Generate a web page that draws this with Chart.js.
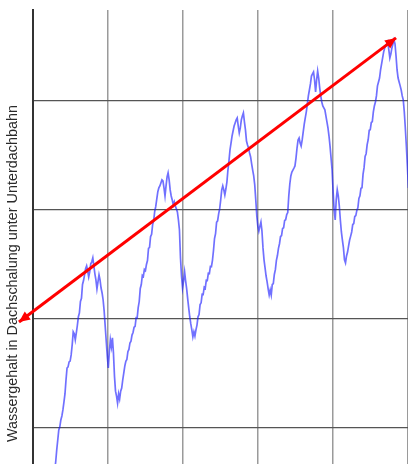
<!DOCTYPE html>
<html lang="de">
<head>
<meta charset="utf-8">
<title>Wassergehalt in Dachschalung unter Unterdachbahn</title>
<script src="https://cdn.jsdelivr.net/npm/chart.js@4/dist/chart.umd.min.js"></script>
<style>
  html, body { margin: 0; padding: 0; background: #fff; overflow: hidden; }
  #frame { width: 408px; height: 464px; overflow: hidden; position: relative; }
  #chart { display: block; }
</style>
</head>
<body>
<div id="frame"><canvas id="chart" width="408" height="540"></canvas></div>
<script>
// Moisture readings (M-%), one every 5 days starting at day 100
const dayStart = 100;
const dayStep = 5;
const moisture = [
  7.84, 8.07, 8.44, 8.99, 9.45, 9.91, 10.05, 10.37, 10.55, 10.83,
  11.19, 11.56, 12.20, 12.75, 12.80, 13.03, 13.07, 13.35, 13.81, 14.41,
  14.32, 14.04, 14.36, 14.70, 15.10, 15.28, 15.80, 15.95, 16.58, 16.76,
  17.02, 17.30, 17.43, 17.20, 16.93, 17.16, 17.53, 17.62, 17.80, 17.43,
  17.07, 16.79, 16.38, 16.70, 17.02, 16.79, 16.42, 16.19, 15.87, 15.36,
  14.67, 13.99, 13.30, 12.75, 13.49, 14.04, 13.72, 14.13, 13.44, 12.38,
  11.69, 11.46, 11.14, 11.56, 11.33, 11.69, 11.83, 12.20, 12.52, 12.84,
  13.06, 13.14, 13.50, 13.60, 13.90, 13.98, 14.26, 14.38, 14.62, 14.66,
  15.06, 15.05, 15.52, 15.80, 16.40, 16.58, 17.00, 16.95, 17.27, 17.22,
  17.50, 17.68, 18.24, 18.28, 18.78, 18.88, 19.33, 19.50, 19.93, 20.15,
  20.50, 20.83, 21.01, 21.10, 21.24, 21.38, 21.33, 21.01, 20.64, 21.10,
  21.51, 21.70, 21.38, 20.92, 20.64, 20.46, 20.23, 20.37, 20.18, 20.05,
  19.91, 19.54, 19.08, 17.80, 16.97, 16.42, 16.74, 17.16, 16.74, 16.38,
  15.92, 15.50, 15.09, 14.77, 14.50, 14.18, 14.41, 14.22, 14.50, 14.72,
  15.10, 15.20, 15.66, 15.74, 16.13, 16.12, 16.45, 16.40, 16.77, 16.76,
  17.09, 17.08, 17.41, 17.40, 17.69, 18.14, 18.69, 18.91, 19.43, 19.50,
  19.82, 20.05, 20.46, 20.92, 21.10, 20.92, 20.69, 20.96, 21.28, 21.83,
  22.25, 22.75, 23.07, 23.39, 23.62, 23.85, 23.99, 24.13, 24.22, 23.85,
  23.53, 23.76, 24.13, 24.31, 24.45, 24.04, 23.67, 23.16, 22.98, 22.84,
  22.61, 22.43, 22.11, 21.83, 21.56, 21.15, 20.46, 19.72, 19.26, 19.03,
  19.26, 19.45, 19.03, 18.26, 17.71, 17.34, 16.97, 16.70, 16.38, 16.10,
  16.33, 16.10, 16.58, 16.62, 17.04, 17.26, 17.69, 17.91, 18.24, 18.45,
  18.78, 18.82, 19.15, 19.18, 19.52, 19.55, 19.79, 19.88, 20.64, 21.19,
  21.56, 21.74, 21.83, 21.92, 22.02, 22.38, 22.84, 23.21, 23.30, 23.07,
  22.93, 23.21, 23.58, 23.94, 24.22, 24.50, 24.86, 25.23, 25.50, 25.78,
  26.14, 26.24, 26.33, 25.96, 25.41, 25.96, 26.37, 26.05, 25.59, 25.23,
  24.95, 24.77, 24.68, 24.59, 24.31, 24.04, 23.76, 23.39, 22.93, 22.38,
  21.83, 20.83, 20.00, 19.54, 20.46, 20.92, 20.64, 20.18, 19.54, 18.99,
  18.62, 18.26, 17.71, 17.57, 17.89, 18.07, 18.35, 18.62, 18.80, 18.99,
  19.33, 19.37, 19.70, 19.74, 19.98, 20.10, 20.53, 20.65, 20.99, 21.02,
  21.63, 21.94, 22.45, 22.58, 23.00, 23.22, 23.65, 23.68, 24.01, 24.05,
  24.50, 24.77, 24.95, 25.23, 25.69, 25.87, 26.05, 26.42, 26.70, 26.97,
  27.25, 27.43, 27.52, 27.62, 27.71, 27.34, 26.97, 27.16, 27.43, 27.62,
  27.80, 27.62, 27.06, 26.42, 26.05, 25.87, 25.69, 25.50, 25.23, 25.05,
  24.50, 23.76, 22.93, 22.02, 21.01, 20.46
];

// Trend arrow (day, moisture) at both tips
const trendDays = [-68, 1760];
const trendMoisture = [14.86, 27.89];

// Axis ranges and grid steps
const dayMin = 0;
const dayMax = 1818;
const dayGridStep = 365;
const moistureMin = 5;
const moistureMax = 29.17;
const moistureGridStep = 5;
const yTitle = 'Wassergehalt in Dachschalung unter Unterdachbahn';

const series = moisture.map((v, i) => ({ x: dayStart + i * dayStep, y: v }));
const trend = trendDays.map((d, i) => ({ x: d, y: trendMoisture[i] }));

// Filled arrowheads on both ends of the trend line
const arrowHeads = {
  id: 'arrowHeads',
  afterDatasetsDraw(chart) {
    const meta = chart.getDatasetMeta(0);
    const pts = meta.data;
    if (pts.length < 2) return;
    const ctx = chart.ctx;
    const a = pts[0], b = pts[pts.length - 1];
    const ang = Math.atan2(b.y - a.y, b.x - a.x);
    const len = 11, half = 5;
    const head = (x, y, dir) => {
      ctx.beginPath();
      ctx.moveTo(x, y);
      ctx.lineTo(x - len * Math.cos(dir) + half * Math.sin(dir), y - len * Math.sin(dir) - half * Math.cos(dir));
      ctx.lineTo(x - len * Math.cos(dir) - half * Math.sin(dir), y - len * Math.sin(dir) + half * Math.cos(dir));
      ctx.closePath();
      ctx.fill();
    };
    ctx.save();
    ctx.fillStyle = '#ff0000';
    head(b.x, b.y, ang);
    head(a.x, a.y, ang + Math.PI);
    ctx.restore();
  }
};

new Chart(document.getElementById('chart'), {
  type: 'line',
  data: {
    datasets: [
      {
        data: trend,
        borderColor: '#ff0000',
        borderWidth: 3,
        pointRadius: 0,
        clip: false,
        order: 0
      },
      {
        data: series,
        borderColor: 'rgba(25, 25, 255, 0.62)',
        borderWidth: 1.7,
        pointRadius: 0,
        tension: 0,
        order: 1
      }
    ]
  },
  options: {
    responsive: false,
    animation: false,
    devicePixelRatio: 1,
    layout: { padding: { top: 10, left: 0, right: 0, bottom: 0 } },
    plugins: { legend: { display: false }, tooltip: { enabled: false } },
    scales: {
      x: {
        type: 'linear',
        min: dayMin,
        max: dayMax,
        ticks: { display: false, stepSize: dayGridStep, includeBounds: false },
        grid: { color: '#9a9a9a', lineWidth: 1.5, drawTicks: false },
        border: { display: false },
        afterFit(scale) { scale.height = 3; }
      },
      y: {
        type: 'linear',
        min: moistureMin,
        max: moistureMax,
        ticks: { display: false, stepSize: moistureGridStep, includeBounds: false },
        grid: { color: '#555', lineWidth: 1.3, drawTicks: false },
        border: { display: true, color: '#333', width: 2 },
        title: {
          display: true,
          text: yTitle,
          color: '#2a2a2a',
          font: { family: '"Liberation Sans", Arial, sans-serif', size: 14.4 },
          padding: { top: 4, bottom: 4 }
        },
        afterFit(scale) { scale.width = 33; }
      }
    }
  },
  plugins: [arrowHeads]
});
</script>
</body>
</html>
